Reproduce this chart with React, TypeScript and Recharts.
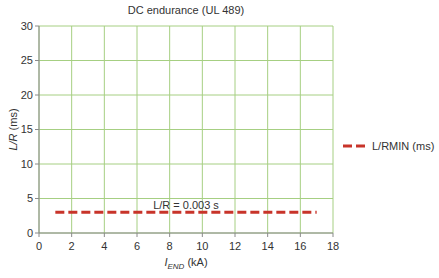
import { LineChart, Line, XAxis, YAxis, CartesianGrid, ReferenceDot, Label } from "recharts";

// L/R minimum for DC endurance test, UL 489
const currentKA = [1, 17];
const lrMinMs = [3, 3];
const xTicks = [0, 2, 4, 6, 8, 10, 12, 14, 16, 18];
const yTicks = [0, 5, 10, 15, 20, 25, 30];

const data = currentKA.map((x, i) => ({ x, lr: lrMinMs[i] }));

const FONT = "'Liberation Sans', Arial, sans-serif";
const RED = "#c8342a";
const GRID = "#a6cf82";
const AXIS = "#8a8a8a";

export default function App() {
  const tickStyle = { fontSize: 11, fill: "#333", fontFamily: FONT };

  return (
    <div style={{ position: "relative", width: 439, height: 278, background: "#fff", fontFamily: FONT }}>
      <style>{`body{margin:0}`}</style>
      <LineChart width={439} height={278} data={data} margin={{ top: 26, right: 106, bottom: 0, left: 0 }}>
        <text x={186} y={14} textAnchor="middle" fontSize={11} fill="#333" fontFamily={FONT}>
          DC endurance (UL 489)
        </text>
        <CartesianGrid stroke={GRID} strokeWidth={1} horizontalValues={yTicks} verticalValues={xTicks} />
        <XAxis
          dataKey="x"
          type="number"
          domain={[0, 18]}
          ticks={xTicks}
          interval={0}
          height={45}
          stroke={AXIS}
          tickSize={4}
          tickMargin={5}
          tick={tickStyle}
        >
          <Label
            content={({ viewBox }: any) => (
              <text
                x={viewBox.x + viewBox.width / 2}
                y={viewBox.y + viewBox.height - 12}
                textAnchor="middle"
                fontSize={11}
                fill="#333"
                fontFamily={FONT}
              >
                <tspan fontStyle="italic">I</tspan>
                <tspan fontStyle="italic" fontSize={8} dy={3}>END</tspan>
                <tspan dy={-3}> (kA)</tspan>
              </text>
            )}
          />
        </XAxis>
        <YAxis
          type="number"
          domain={[0, 30]}
          ticks={yTicks}
          interval={0}
          width={39}
          stroke={AXIS}
          tickSize={4}
          tickMargin={2}
          tick={tickStyle}
        >
          <Label
            content={({ viewBox }: any) => {
              const cx = 13;
              const cy = viewBox.y + viewBox.height / 2;
              return (
                <text
                  x={cx}
                  y={cy}
                  transform={`rotate(-90 ${cx} ${cy})`}
                  textAnchor="middle"
                  dominantBaseline="central"
                  fontSize={11}
                  fill="#333"
                  fontFamily={FONT}
                >
                  <tspan fontStyle="italic">L/R</tspan>
                  <tspan> (ms)</tspan>
                </text>
              );
            }}
          />
        </YAxis>
        <Line
          dataKey="lr"
          stroke={RED}
          strokeWidth={3}
          strokeDasharray="9 4"
          dot={false}
          activeDot={false}
          isAnimationActive={false}
        />
        <ReferenceDot x={9} y={3} r={0} stroke="none" fill="none">
          <Label value="L/R = 0.003 s" position="top" offset={3} fontSize={11} fill="#333" fontFamily={FONT} />
        </ReferenceDot>
      </LineChart>
      <div style={{ position: "absolute", left: 342, top: 140, display: "flex", alignItems: "center", fontSize: 11, color: "#333" }}>
        <svg width={24} height={12}>
          <line x1={1} y1={6} x2={23} y2={6} stroke={RED} strokeWidth={3} strokeDasharray="9 4" />
        </svg>
        <span style={{ marginLeft: 6 }}>L/RMIN (ms)</span>
      </div>
    </div>
  );
}
